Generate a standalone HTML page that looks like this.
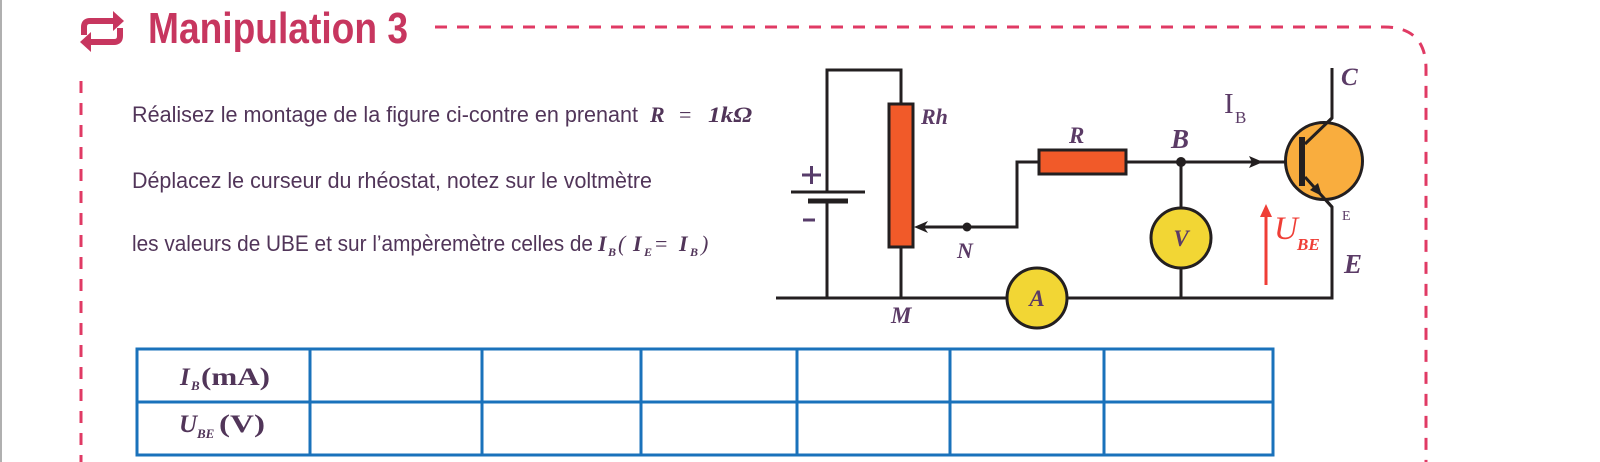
<!DOCTYPE html>
<html>
<head>
<meta charset="utf-8">
<style>
  html,body{margin:0;padding:0;background:#fff;}
  body{width:1600px;height:462px;overflow:hidden;}
  svg{display:block;}
</style>
</head>
<body>
<svg width="1600" height="462" viewBox="0 0 1600 462" xmlns="http://www.w3.org/2000/svg">
  <rect x="0" y="0" width="1600" height="462" fill="#ffffff"/>
  <rect x="0" y="0" width="2" height="462" fill="#b0b0b0"/>

  <!-- header icon -->
  <g fill="none" stroke="#c7365f" stroke-width="6" stroke-linecap="butt">
    <path d="M 84 35 V 27 Q 84 21 90 21 H 114"/>
    <path d="M 120 28 V 36 Q 120 42 114 42 H 90"/>
  </g>
  <polygon points="113,11 124,21 113,31" fill="#c7365f"/>
  <polygon points="91,32 80,42 91,52" fill="#c7365f"/>

  <!-- title -->
  <text x="148" y="43" font-family="Liberation Sans, sans-serif" font-weight="bold" font-size="44" fill="#c7365f" textLength="260" lengthAdjust="spacingAndGlyphs">Manipulation 3</text>

  <!-- dashed frame -->
  <g fill="none" stroke="#e03a64" stroke-width="3" stroke-dasharray="12 10">
    <path d="M 435 27 H 1384 Q 1426 27 1426 69 V 462"/>
    <path d="M 81 81 V 462"/>
  </g>

  <!-- body text -->
  <g font-family="Liberation Sans, sans-serif" font-size="22" fill="#513559">
    <text x="132" y="122" textLength="506" lengthAdjust="spacingAndGlyphs">Réalisez le montage de la figure ci-contre en prenant</text>
    <text x="132" y="188" textLength="520" lengthAdjust="spacingAndGlyphs">Déplacez le curseur du rhéostat, notez sur le voltmètre</text>
    <text x="132" y="251" textLength="461" lengthAdjust="spacingAndGlyphs">les valeurs de UBE et sur l’ampèremètre celles de</text>
  </g>
  <g font-family="Liberation Serif, serif" fill="#513559">
    <text x="650" y="122" font-size="22" font-weight="bold" font-style="italic">R</text>
    <text x="679" y="122" font-size="22">=</text>
    <text x="708" y="122" font-size="22" font-weight="bold" font-style="italic" textLength="44" lengthAdjust="spacingAndGlyphs">1kΩ</text>

    <text x="598" y="251" font-size="22" font-weight="bold" font-style="italic">I</text>
    <text x="608" y="256" font-size="12" font-weight="bold" font-style="italic">B</text>
    <text x="618" y="251" font-size="22" font-style="italic">(</text>
    <text x="633" y="251" font-size="22" font-weight="bold" font-style="italic">I</text>
    <text x="644" y="256" font-size="12" font-weight="bold" font-style="italic">E</text>
    <text x="655" y="251" font-size="22">=</text>
    <text x="679" y="251" font-size="22" font-weight="bold" font-style="italic">I</text>
    <text x="690" y="256" font-size="12" font-weight="bold" font-style="italic">B</text>
    <text x="701" y="251" font-size="22" font-style="italic">)</text>
  </g>

  <!-- circuit wires -->
  <g fill="none" stroke="#231f20" stroke-width="3" stroke-linejoin="miter">
    <path d="M 827 192 V 70 H 901 V 104"/>
    <path d="M 827 201 V 298"/>
    <path d="M 901 247 V 298"/>
    <path d="M 776 298 H 1332 V 207 L 1305 177"/>
    <path d="M 923 227 H 1017 V 162 H 1039"/>
    <path d="M 1126 162 H 1300"/>
    <path d="M 1181 162 V 298"/>
    <path d="M 1305 144 L 1332 118 V 68"/>
  </g>
  <!-- battery plates -->
  <line x1="791" y1="192" x2="865" y2="192" stroke="#231f20" stroke-width="3"/>
  <line x1="808" y1="201" x2="848" y2="201" stroke="#231f20" stroke-width="5"/>
  <!-- + and - -->
  <line x1="802" y1="175" x2="821" y2="175" stroke="#573c6a" stroke-width="3"/>
  <line x1="811.5" y1="166" x2="811.5" y2="184" stroke="#573c6a" stroke-width="3"/>
  <line x1="803" y1="220" x2="815" y2="220" stroke="#573c6a" stroke-width="3"/>

  <!-- rheostat -->
  <rect x="889" y="104" width="24" height="143" fill="#f15a29" stroke="#231f20" stroke-width="3"/>
  <!-- cursor arrow -->
  <polygon points="914,227 928,221 924,227 928,233" fill="#231f20"/>
  <circle cx="967" cy="227" r="4.5" fill="#231f20"/>

  <!-- resistor -->
  <rect x="1039" y="150" width="87" height="24" fill="#f15a29" stroke="#231f20" stroke-width="3"/>
  <circle cx="1181" cy="162" r="5" fill="#231f20"/>
  <polygon points="1263,162 1249,156 1252,162 1249,168" fill="#231f20"/>

  <!-- voltmeter -->
  <circle cx="1181" cy="238" r="30" fill="#f2d634" stroke="#231f20" stroke-width="3"/>
  <!-- ammeter -->
  <circle cx="1037" cy="298" r="30" fill="#f2d634" stroke="#231f20" stroke-width="3"/>

  <!-- transistor -->
  <circle cx="1324" cy="161" r="38.5" fill="#f9ad3e" stroke="#231f20" stroke-width="3"/>
  <line x1="1305" y1="144" x2="1332" y2="118" stroke="#231f20" stroke-width="3"/>
  <line x1="1305" y1="177" x2="1332" y2="207" stroke="#231f20" stroke-width="3"/>
  <rect x="1299" y="137" width="6" height="49" fill="#231f20"/>
  <polygon points="1322,196 1310,190 1318,183" fill="#231f20"/>

  <!-- U_BE arrow -->
  <line x1="1266" y1="285" x2="1266" y2="214" stroke="#ef3e36" stroke-width="3"/>
  <polygon points="1266,204 1260,217 1272,217" fill="#ef3e36"/>

  <!-- labels -->
  <g font-family="Liberation Serif, serif" fill="#5b3b66" font-weight="bold" font-style="italic">
    <text x="921" y="124" font-size="22">Rh</text>
    <text x="1069" y="143" font-size="23">R</text>
    <text x="1171" y="148" font-size="27">B</text>
    <text x="957" y="258" font-size="22">N</text>
    <text x="891" y="323" font-size="23">M</text>
    <text x="1341" y="85" font-size="25">C</text>
    <text x="1344" y="273" font-size="27">E</text>
    <text x="1181" y="246" font-size="23" text-anchor="middle">V</text>
    <text x="1037" y="306" font-size="23" text-anchor="middle">A</text>
  </g>
  <g font-family="Liberation Serif, serif" fill="#5b3b66">
    <text x="1224" y="113" font-size="29">I</text>
    <text x="1235" y="123" font-size="17">B</text>
    <text x="1342" y="220" font-size="14">E</text>
  </g>
  <g font-family="Liberation Serif, serif" fill="#ef3e36" font-style="italic">
    <text x="1274" y="239" font-size="33">U</text>
    <text x="1297" y="250" font-size="17" font-weight="bold">BE</text>
  </g>

  <!-- table -->
  <g fill="none" stroke="#1a72bb" stroke-width="3">
    <rect x="137" y="349" width="1136" height="106"/>
    <line x1="137" y1="402" x2="1273" y2="402"/>
    <line x1="310" y1="349" x2="310" y2="455"/>
    <line x1="482" y1="349" x2="482" y2="455"/>
    <line x1="641" y1="349" x2="641" y2="455"/>
    <line x1="797" y1="349" x2="797" y2="455"/>
    <line x1="950" y1="349" x2="950" y2="455"/>
    <line x1="1104" y1="349" x2="1104" y2="455"/>
  </g>
  <g font-family="Liberation Serif, serif" fill="#513559" font-weight="bold">
    <text x="180" y="385" font-size="25" font-style="italic">I</text>
    <text x="191" y="390" font-size="13" font-style="italic">B</text>
    <text x="201" y="385" font-size="25" textLength="69" lengthAdjust="spacingAndGlyphs">(mA)</text>
    <text x="179" y="432" font-size="25" font-style="italic">U</text>
    <text x="197" y="438" font-size="13" font-style="italic">BE</text>
    <text x="219" y="432" font-size="25" textLength="46" lengthAdjust="spacingAndGlyphs">(V)</text>
  </g>
</svg>
</body>
</html>
